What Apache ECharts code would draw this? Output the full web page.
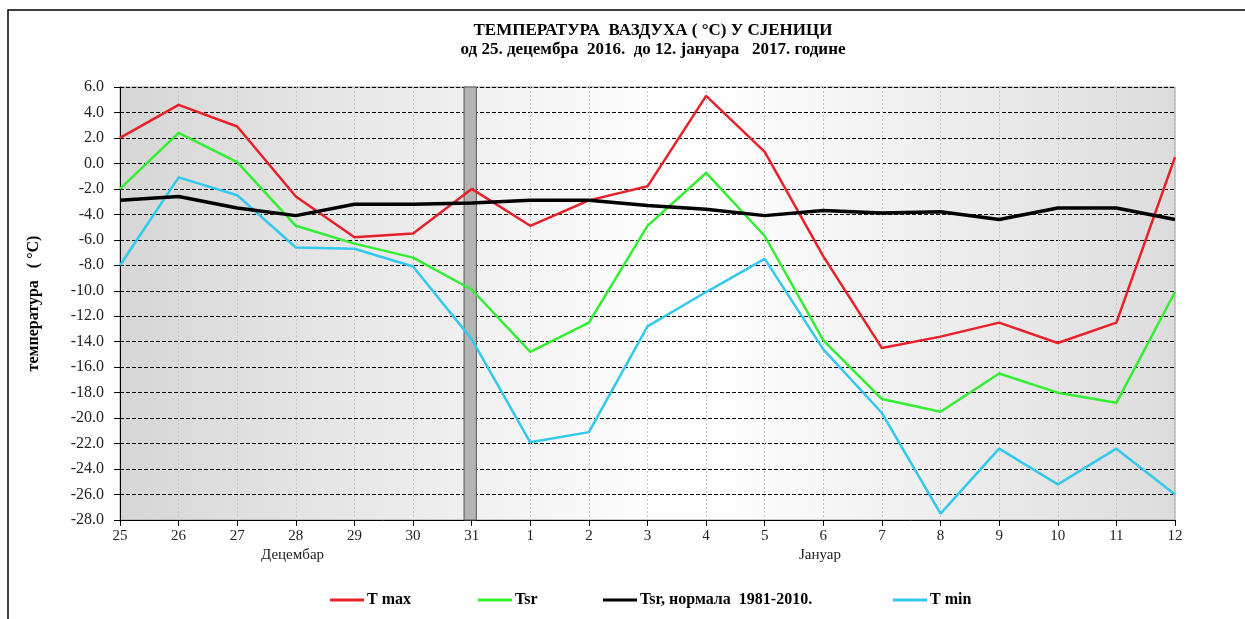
<!DOCTYPE html>
<html>
<head>
<meta charset="utf-8">
<script src="https://cdn.jsdelivr.net/npm/echarts@6/dist/echarts.min.js"></script>
<style>
html,body{margin:0;padding:0;background:#fff;}
#chart{width:1245px;height:619px;}
</style>
</head>
<body>
<div id="chart"></div>
<script>
var days = ['25','26','27','28','29','30','31','1','2','3','4','5','6','7','8','9','10','11','12'];
var tMax = [2.0, 4.6, 2.9, -2.6, -5.8, -5.5, -2.0, -4.9, -2.9, -1.8, 5.3, 0.9, -7.3, -14.5, -13.6, -12.5, -14.1, -12.5, 0.5];
var tSr = [-2.0, 2.4, 0.1, -4.9, -6.3, -7.4, -9.9, -14.8, -12.5, -4.9, -0.75, -5.7, -13.9, -18.5, -19.5, -16.5, -18.0, -18.8, -10.1];
var tNorm = [-2.9, -2.6, -3.5, -4.1, -3.2, -3.2, -3.1, -2.9, -2.9, -3.3, -3.6, -4.1, -3.7, -3.9, -3.8, -4.4, -3.5, -3.5, -4.4];
var tMin = [-8.0, -1.1, -2.5, -6.6, -6.7, -8.1, -13.8, -21.9, -21.1, -12.8, -10.1, -7.5, -14.6, -19.6, -27.5, -22.4, -25.2, -22.4, -26.0];
var seriesNames = ['T max', 'Tsr', 'Tsr, нормала  1981-2010.', 'T min'];
var yMin = -28, yMax = 6, yStep = 2;

function pairs(arr){ return arr.map(function(v,i){ return [i, v]; }); }

var serif = '"Liberation Serif","Times New Roman",serif';
var legendLeft = [325, 473, 598, 888];
var legends = seriesNames.map(function(n, i){
  return {
    bottom: 6, left: legendLeft[i], itemWidth: 34, itemHeight: 3, itemGap: 0,
    icon: 'rect',
    textStyle: {fontFamily: serif, fontWeight: 'bold', fontSize: 16, color: '#000', padding: [0,0,0,-2]},
    data: [n]
  };
});

var chart = echarts.init(document.getElementById('chart'));
var option = {
  animation: false,
  backgroundColor: '#fff',
  title: {
    text: 'ТЕМПЕРАТУРА  ВАЗДУХА ( °C) У СЈЕНИЦИ\nод 25. децембра  2016.  до 12. јануара   2017. године',
    left: 648, top: 16, textAlign: 'center',
    textStyle: {fontFamily: serif, fontWeight: 'bold', fontSize: 17, color: '#000', lineHeight: 19}
  },
  grid: {
    left: 120, right: 70, top: 87, bottom: 99, show: true,
    borderColor: '#a0a0a0', borderWidth: 1,
    backgroundColor: {type:'linear', x:0, y:0, x2:1, y2:0, colorStops:[
      {offset:0, color:'#d6d6d6'},{offset:0.5, color:'#fdfdfd'},{offset:0.58, color:'#fdfdfd'},{offset:1, color:'#dcdcdc'}]}
  },
  legend: legends,
  xAxis: {
    type: 'value', min: 0, max: days.length - 1, interval: 1,
    axisLine: {show: true, onZero: false, lineStyle: {color: '#000', width: 1}},
    axisTick: {show: true, length: 6, lineStyle: {color: '#000'}},
    axisLabel: {fontFamily: serif, fontSize: 15, color: '#222', margin: 9,
      formatter: function(v){ return days[Math.round(v)]; }},
    splitLine: {show: true, lineStyle: {color: '#c4c4c4', type: [2,2], width: 1}}
  },
  yAxis: {
    type: 'value', min: yMin, max: yMax, interval: yStep,
    name: 'температура   ( °C)', nameLocation: 'middle', nameGap: 78, nameRotate: 90,
    nameTextStyle: {fontFamily: serif, fontWeight: 'bold', fontSize: 16, color: '#000'},
    axisLine: {show: true, lineStyle: {color: '#000', width: 1}},
    axisTick: {show: true, length: 6, lineStyle: {color: '#000'}},
    axisLabel: {fontFamily: serif, fontSize: 16, color: '#222', margin: 16,
      formatter: function(v){ return v.toFixed(1); }},
    splitLine: {show: true, lineStyle: {color: '#000', type: [4,2], width: 1}}
  },
  graphic: [
    {type:'rect', shape:{x:8, y:10, width:1400, height:800}, style:{fill:'none', stroke:'#000', lineWidth:1.5}, silent:true},
    {type:'text', left: 261, top: 548, style:{text:'Децембар', font:'15px "Liberation Serif", serif', fill:'#222'}},
    {type:'text', left: 799, top: 548, style:{text:'Јануар', font:'15px "Liberation Serif", serif', fill:'#222'}}
  ],
  series: [
    {name: seriesNames[0], type:'line', data: pairs(tMax), symbol:'none', color:'#e8202a', lineStyle:{width:2.5, color:'#e8202a'}, z:4,
      markArea: {silent:true, z:1, itemStyle:{color:'#b4b4b4', borderColor:'#555', borderWidth:1},
        data: [[{xAxis: 5.87}, {xAxis: 6.08}]]}},
    {name: seriesNames[1], type:'line', data: pairs(tSr), symbol:'none', color:'#33ee33', lineStyle:{width:2.5, color:'#33ee33'}, z:3},
    {name: seriesNames[2], type:'line', data: pairs(tNorm), symbol:'none', color:'#000', lineStyle:{width:3.5, color:'#000'}, z:5},
    {name: seriesNames[3], type:'line', data: pairs(tMin), symbol:'none', color:'#33c8ee', lineStyle:{width:2.5, color:'#33c8ee'}, z:3}
  ]
};
chart.setOption(option);
</script>
</body>
</html>
